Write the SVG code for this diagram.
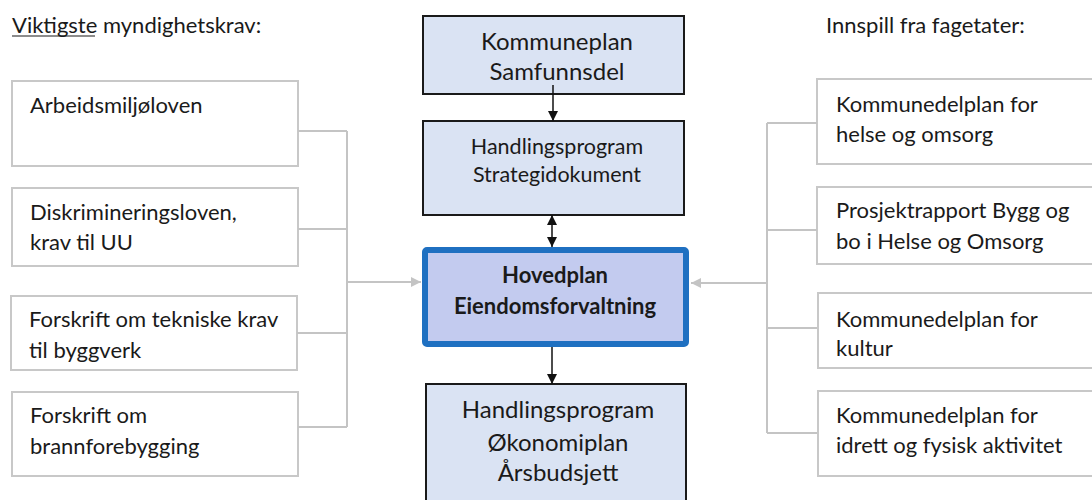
<svg xmlns="http://www.w3.org/2000/svg" width="1092" height="500" viewBox="0 0 1092 500">
<style>
text{font-family:Lato,"Open Sans","Liberation Sans",sans-serif;fill:#1a1a1a;}
.t{font-size:22px;}
.c{font-size:24px;text-anchor:middle;}
.cs{font-size:21.5px;text-anchor:middle;}
.cb{font-size:22px;font-weight:bold;text-anchor:middle;}
.side{fill:#ffffff;stroke:#c8c8c8;stroke-width:2;}
.blue{fill:#dae3f3;stroke:#1a1a1a;stroke-width:2;}
.gl{fill:none;stroke:#c4c4c4;stroke-width:2;}
.bl{fill:none;stroke:#111;stroke-width:1.5;}
</style>
<defs>
<marker id="ga" viewBox="0 0 10 10" refX="10" refY="5" markerWidth="10" markerHeight="10" markerUnits="userSpaceOnUse" orient="auto"><path d="M0,0 L10,5 L0,10 z" fill="#c4c4c4"/></marker>
<marker id="ba" viewBox="0 0 10 10" refX="10" refY="5" markerWidth="11" markerHeight="10" markerUnits="userSpaceOnUse" orient="auto-start-reverse"><path d="M0,0 L10,5 L0,10 z" fill="#111"/></marker>
</defs>
<rect width="1092" height="500" fill="#ffffff"/>

<text class="t" x="12" y="33">Viktigste myndighetskrav:</text>
<line x1="12" y1="36" x2="95" y2="36" stroke="#1a1a1a" stroke-width="1.2"/>
<text class="t" x="826" y="33">Innspill fra fagetater:</text>

<g id="arbeidsmiljoloven">
<rect class="side" x="12" y="81" width="286" height="85"/>
<text class="t" x="30" y="113">Arbeidsmiljøloven</text>
</g>
<g id="diskrimineringsloven">
<rect class="side" x="12" y="188" width="286" height="78"/>
<text class="t" x="30" y="220">Diskrimineringsloven,</text>
<text class="t" x="30" y="250">krav til UU</text>
</g>
<g id="tekniske-krav">
<rect class="side" x="11" y="296" width="286" height="74"/>
<text class="t" x="29" y="327">Forskrift om tekniske krav</text>
<text class="t" x="29" y="358">til byggverk</text>
</g>
<g id="brannforebygging">
<rect class="side" x="12" y="392" width="286" height="84"/>
<text class="t" x="30" y="423">Forskrift om</text>
<text class="t" x="30" y="454">brannforebygging</text>
</g>

<g id="helse-omsorg">
<rect class="side" x="817" y="79" width="290" height="85"/>
<text class="t" x="836" y="112">Kommunedelplan for</text>
<text class="t" x="836" y="142">helse og omsorg</text>
</g>
<g id="prosjektrapport">
<rect class="side" x="817" y="187" width="290" height="77"/>
<text class="t" x="836" y="218">Prosjektrapport Bygg og</text>
<text class="t" x="836" y="249">bo i Helse og Omsorg</text>
</g>
<g id="kultur">
<rect class="side" x="818" y="293" width="290" height="75"/>
<text class="t" x="836" y="327">Kommunedelplan for</text>
<text class="t" x="836" y="356">kultur</text>
</g>
<g id="idrett">
<rect class="side" x="818" y="391" width="290" height="85"/>
<text class="t" x="836" y="423">Kommunedelplan for</text>
<text class="t" x="836" y="453">idrett og fysisk aktivitet</text>
</g>

<g id="kommuneplan">
<rect class="blue" x="423" y="16" width="261" height="78"/>
<text class="c" x="557" y="50">Kommuneplan</text>
<text class="c" x="557" y="80">Samfunnsdel</text>
</g>
<g id="strategidokument">
<rect class="blue" x="423" y="121" width="261" height="94"/>
<text class="cs" x="557" y="154">Handlingsprogram</text>
<text class="cs" x="557" y="182">Strategidokument</text>
</g>
<g id="hovedplan">
<rect x="425" y="250" width="261" height="94" fill="#c3cbef" stroke="#1f70c1" stroke-width="6" rx="2"/>
<text class="cb" x="555" y="283">Hovedplan</text>
<text class="cb" x="555" y="314">Eiendomsforvaltning</text>
</g>
<g id="okonomiplan">
<rect class="blue" x="426" y="384" width="260" height="130"/>
<text class="c" x="558" y="418">Handlingsprogram</text>
<text class="c" x="558" y="451">Økonomiplan</text>
<text class="c" x="558" y="481">Årsbudsjett</text>
</g>

<g id="connectors">
<path class="gl" d="M298,131 H347 M298,229 H347 M297,333 H347 M298,427 H347 M347,131 V427"/>
<line class="gl" x1="347" y1="282" x2="421" y2="282" marker-end="url(#ga)"/>
<path class="gl" d="M817,123 H767 M817,230 H767 M817,328 H767 M817,433 H767 M767,123 V433"/>
<line class="gl" x1="767" y1="283" x2="691" y2="283" marker-end="url(#ga)"/>
<line class="bl" x1="553" y1="85" x2="553" y2="121" marker-end="url(#ba)"/>
<line class="bl" x1="552" y1="215" x2="552" y2="247" marker-start="url(#ba)" marker-end="url(#ba)"/>
<line class="bl" x1="552" y1="347" x2="552" y2="384" marker-end="url(#ba)"/>
</g>
</svg>
